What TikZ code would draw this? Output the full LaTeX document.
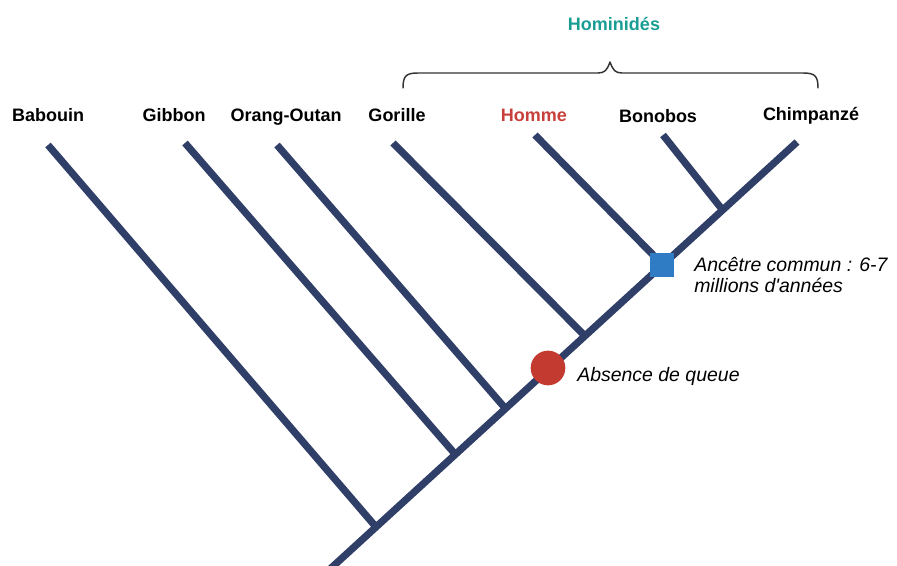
\documentclass[tikz,border=0pt]{standalone}
\usepackage{fontspec}
\setmainfont{Liberation Sans}
\definecolor{navy}{HTML}{2F3F68}
\definecolor{redc}{HTML}{C23A30}
\definecolor{bluesq}{HTML}{2F7CC5}
\definecolor{teal}{HTML}{1A9E94}
\definecolor{hommered}{HTML}{C8403A}
\begin{document}
\begin{tikzpicture}[x=0.75pt,y=-0.75pt,
  branch/.style={draw=navy,line width=5.4pt,line cap=butt},
  taxon/.style={anchor=base,inner sep=0pt,font=\fontsize{13.5}{16}\selectfont\bfseries},
  note/.style={anchor=base west,inner sep=0pt,align=left,font=\fontsize{14.6}{15.8}\selectfont\itshape},
  brace/.style={draw=black!80,line width=1.1pt,line cap=round,line join=round}]
\useasboundingbox (0,0) rectangle (897,566);
% tips
\coordinate (tBab) at (48,145);
\coordinate (tGib) at (185,143);
\coordinate (tOra) at (277,145);
\coordinate (tGor) at (393,143);
\coordinate (tHom) at (535,135);
\coordinate (tBon) at (663,135);
\coordinate (tChi) at (797,142);
\coordinate (root) at (329,570);
% junctions
\coordinate (jBab) at (376,527);
\coordinate (jGib) at (455,454);
\coordinate (jOra) at (505,408);
\coordinate (jGor) at (583,334);
\coordinate (jHom) at (662,264);
\coordinate (jBon) at (721,208);
% branches
\draw[branch] (root) -- (tChi);
\draw[branch] (tBab) -- (jBab);
\draw[branch] (tGib) -- (jGib);
\draw[branch] (tOra) -- (jOra);
\draw[branch] (tGor) -- (jGor);
\draw[branch] (tHom) -- (jHom);
\draw[branch] (tBon) -- (jBon);
% markers
\node[circle,fill=redc,inner sep=0pt,minimum size=26pt] (queue) at (548,368) {};
\node[rectangle,fill=bluesq,inner sep=0pt,minimum size=18pt] (anc) at (662,265) {};
% labels
\node[taxon] (lBab) at (48,122) {Babouin};
\node[taxon] (lGib) at (174,122) {Gibbon};
\node[taxon] (lOra) at (286,122) {Orang-Outan};
\node[taxon] (lGor) at (397,122) {Gorille};
\node[taxon,text=hommered] (lHom) at (534,122) {Homme};
\node[taxon] (lBon) at (658,123) {Bonobos};
\node[taxon] (lChi) at (811,121) {Chimpanzé};
\node[taxon,text=teal] (lHmd) at (614,31) {Hominidés};
% notes
\node[note] (nAnc) at (694,293) {Ancêtre commun : 6-7\\millions d\textquotesingle années};
\node[note] (nQue) at (577,382) {Absence de queue};
% brace
\coordinate (bL) at (403,88);
\coordinate (bR) at (818,88);
\coordinate (bT) at (610,62);
\draw[brace] (bL) .. controls (403,76) and (406,73) .. (418,73) -- (598,73)
  .. controls (605,73) and (607,70) .. (bT)
  .. controls (613,70) and (615,73) .. (622,73) -- (803,73)
  .. controls (815,73) and (818,76) .. (bR);
\end{tikzpicture}
\end{document}
